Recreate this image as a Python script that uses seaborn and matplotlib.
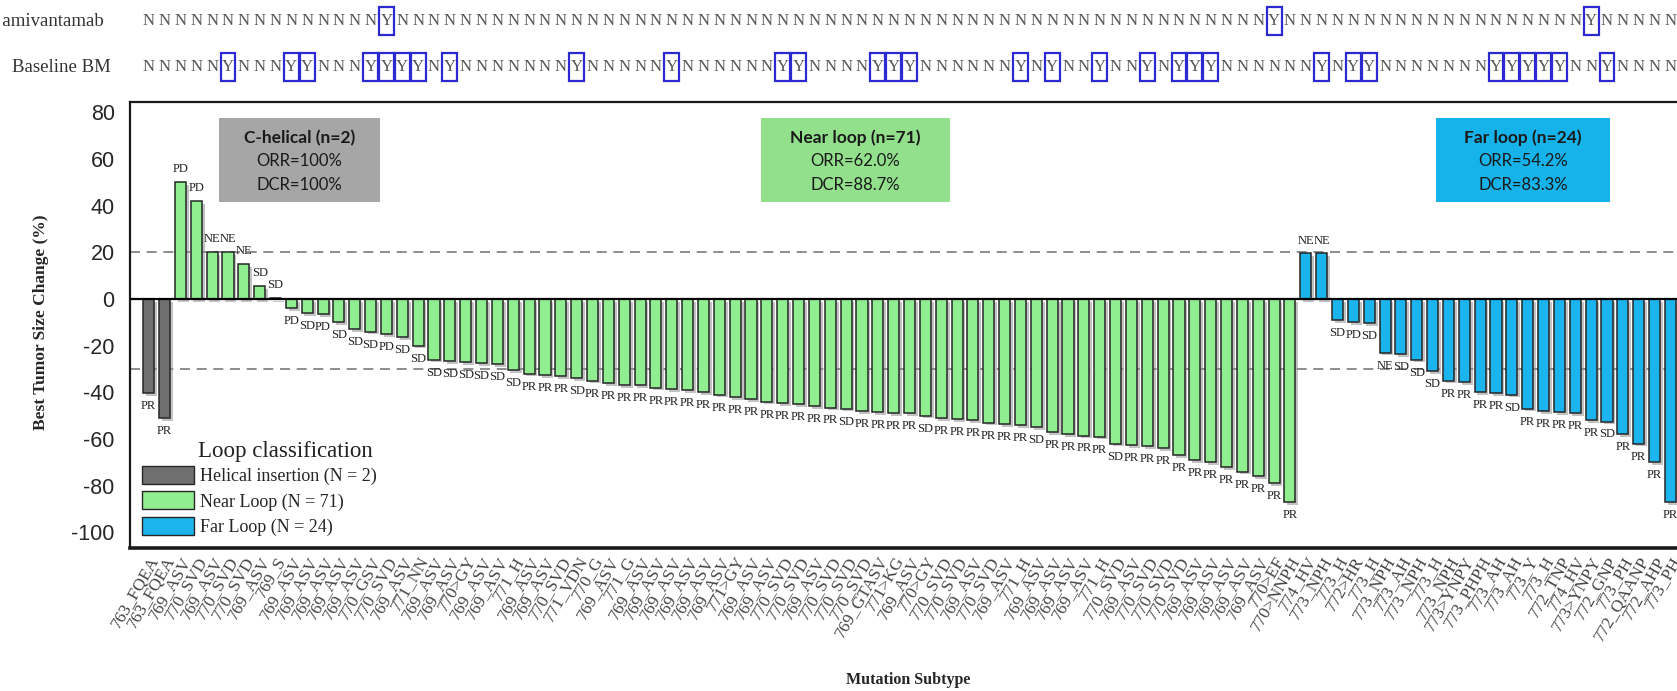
import numpy as np
import pandas as pd
import matplotlib
matplotlib.use('Agg')
import matplotlib.pyplot as plt
import matplotlib.patheffects as pe
import matplotlib.transforms as mtransforms
from matplotlib.patches import Patch, Rectangle
import seaborn as sns

# ---------------- data ----------------
helical_labels = ['763_FQEA', '763_FQEA']
near_labels = ['769_ASV', '770_SVD', '769_ASV', '770_SVD', '770_SVD', '769_ASV', '769_S',
               '769_ASV', '769_ASV', '769_ASV', '769_ASV', '769_ASV', '770_GSV', '770_SVD',
               '769_ASV', '771_NN', '769_ASV', '769_ASV', '770>GY', '769_ASV', '769_ASV',
               '771_H', '769_ASV', '769_ASV', '770_SVD', '771_VDN', '770_G', '769_ASV', '771_G',
               '769_ASV', '769_ASV', '769_ASV', '769_ASV', '769_ASV', '769_ASV', '771>GY',
               '769_ASV', '769_ASV', '770_SVD', '770_SVD', '769_ASV', '770_SVD', '770_SVD',
               '770_SVD', '769_GTASV', '771>KG', '769_ASV', '770>GY', '770_SVD', '770_SVD',
               '769_ASV', '770_SVD', '769_ASV', '771_H', '769_ASV', '769_ASV', '769_ASV',
               '769_ASV', '771_H', '770_SVD', '769_ASV', '770_SVD', '770_SVD', '770_SVD',
               '769_ASV', '769_ASV', '769_ASV', '769_ASV', '769_ASV', '770>EF', '770>NNPH']
far_labels = ['774_HV', '773_NPH', '773_H', '772>HR', '773_H', '773_NPH', '773_AH', '773_NPH',
              '773_H', '773_NPH', '773>YNPY', '773_PHPH', '773_AH', '773_AH', '773_Y', '773_H',
              '772_TNP', '774_HV', '773>YNPY', '772_GNP', '773_PH', '772_QAANP', '772_AHP', '773_PH']

helical_change = [-40.5, -51]
near_change = [50, 42, 20, 20, 15, 5.5, 0.5,
               -4, -6, -6.5, -10, -13, -14, -15, -16.5, -20, -26, -26.5, -27, -27.5, -28,
               -30.5, -32, -32.5,
               -33, -34, -35, -36, -37, -37, -38, -38.5, -39, -40, -41, -42, -43, -44, -44.5,
               -45, -46, -46.5, -47, -48, -48.5, -49, -49, -50, -51, -51.5, -52, -53, -53.5,
               -54, -55, -57, -58, -58.5, -59,
               -62, -62.5, -63, -64, -67, -69, -70, -72, -74, -76, -79, -87]
far_change = [19.5, 19.5, -9, -10, -10.5, -23, -23.5, -26, -31, -35, -35.5, -40, -40.5, -41,
              -47, -48, -48.5, -49, -52, -52.5, -58, -62, -70, -87]

helical_resp = ['PR', 'PR']
near_resp = ['PD', 'PD', 'NE', 'NE', 'NE', 'SD', 'SD',
             'PD', 'SD', 'PD', 'SD', 'SD', 'SD', 'PD', 'SD', 'SD',
             'SD', 'SD', 'SD', 'SD', 'SD', 'SD', 'PR', 'PR',
             'PR', 'SD', 'PR', 'PR', 'PR', 'PR', 'PR', 'PR', 'PR', 'PR', 'PR', 'PR', 'PR',
             'PR', 'PR', 'PR', 'PR', 'PR', 'SD', 'PR', 'PR', 'PR', 'PR', 'SD', 'PR', 'PR',
             'PR', 'PR', 'PR', 'PR', 'SD', 'PR', 'PR', 'PR', 'PR', 'SD', 'PR', 'PR', 'PR',
             'PR', 'PR', 'PR', 'PR', 'PR', 'PR', 'PR', 'PR']
far_resp = ['NE', 'NE', 'SD', 'PD', 'SD', 'NE', 'SD', 'SD', 'SD', 'PR', 'PR', 'PR', 'PR', 'SD',
            'PR', 'PR', 'PR', 'PR', 'PR', 'SD', 'PR', 'PR', 'PR', 'PR']

# patient positions (0-based) flagged "Y" in the two top rows
prior_amivantamab_yes = [15, 71, 91]
baseline_bm_yes = [5, 9, 10, 14, 15, 16, 17, 19, 27, 33, 40, 41, 46, 47, 48, 55, 57, 60, 63,
                   65, 66, 67, 74, 76, 77, 85, 86, 87, 88, 89, 92]

group_names = ['Helical insertion (N = 2)', 'Near Loop (N = 71)', 'Far Loop (N = 24)']
group_colors = ['#6f6f6f', '#90ee90', '#1cb4ec']
box_titles = ['C-helical (n=2)', 'Near loop (n=71)', 'Far loop (n=24)']
box_orr = ['ORR=100%', 'ORR=62.0%', 'ORR=54.2%']
box_dcr = ['DCR=100%', 'DCR=88.7%', 'DCR=83.3%']
box_colors = ['#a6a6a6', '#92e08c', '#16b2ea']

# ---------------- assemble ----------------
labels = helical_labels + near_labels + far_labels
change = helical_change + near_change + far_change
resp = helical_resp + near_resp + far_resp
loop = ([group_names[0]] * len(helical_labels) + [group_names[1]] * len(near_labels)
        + [group_names[2]] * len(far_labels))
n = len(labels)
df = pd.DataFrame({'pos': np.arange(n), 'change': change, 'loop': loop})

sns.set_style('white')
plt.rcParams['font.family'] = ['Liberation Serif', 'DejaVu Serif']
plt.rcParams['axes.unicode_minus'] = False

W, H = 1677, 691
fig = plt.figure(figsize=(W / 100, H / 100), dpi=100)
ax = fig.add_axes([130 / W, 1 - 548 / H, (1700 - 130) / W, (548 - 102) / H])

pal = dict(zip(group_names, group_colors))
sns.barplot(data=df, x='pos', y='change', hue='loop', palette=pal, dodge=False, width=0.7,
            saturation=1, edgecolor='#262626', linewidth=1.1, legend=False, ax=ax, zorder=3)
for p in ax.patches:
    p.set_path_effects([pe.SimplePatchShadow(offset=(2, -2), shadow_rgbFace='#888888', alpha=0.5),
                        pe.Normal()])

ax.set_xlim(-1.18, 97.87)
ax.set_ylim(-106.7, 84.4)

# reference lines
ax.axhline(0, color='black', lw=1.6, zorder=4)
for yv in (20, -30):
    ax.axhline(yv, color='#7a7a7a', lw=1.2, ls=(0, (6, 4)), zorder=1)

# response labels
for i, (v, r) in enumerate(zip(change, resp)):
    if v >= 0:
        ax.annotate(r, (i, v), xytext=(0, 5), textcoords='offset points', ha='center',
                    va='bottom', fontsize=9, color='#222222', zorder=5)
    else:
        ax.annotate(r, (i, v), xytext=(0, -5), textcoords='offset points', ha='center',
                    va='top', fontsize=9, color='#222222', zorder=5)

# axes styling
ax.set_xticks(range(n))
ax.set_xticklabels(labels, rotation=60, ha='right', rotation_mode='anchor', fontsize=12.5,
                   color='#444444')
ax.tick_params(axis='x', length=0, pad=4)
ax.set_yticks(range(-100, 81, 20))
ax.set_yticklabels([str(t) for t in range(-100, 81, 20)], fontsize=15.5,
                   family='Liberation Sans')
ax.tick_params(axis='y', length=0, pad=11)
ax.set_xlabel('')
ax.set_ylabel('')
ax.spines['right'].set_visible(False)
ax.spines['top'].set_linewidth(1.6)
ax.spines['left'].set_linewidth(1.6)
ax.spines['bottom'].set_linewidth(2.6)
for s in ('top', 'left', 'bottom'):
    ax.spines[s].set_color('#1a1a1a')

fig.text(41 / W, 1 - 322 / H, 'Best Tumor Size Change (%)', rotation=90, ha='center',
         va='center', fontsize=12.5, fontweight='bold')
fig.text(908 / W, 1 - 680 / H, 'Mutation Subtype', ha='center', va='center', fontsize=11.5,
         fontweight='bold')

# summary boxes
box_x = [(219, 380), (761, 950), (1436, 1610)]
for (x0, x1), t, o, d, c in zip(box_x, box_titles, box_orr, box_dcr, box_colors):
    fig.add_artist(Rectangle((x0 / W, 1 - 202 / H), (x1 - x0) / W, 84 / H,
                             transform=fig.transFigure, facecolor=c, edgecolor='none', zorder=2))
    xc = (x0 + x1) / 2 / W
    fig.text(xc, 1 - 138 / H, t, ha='center', va='center', fontsize=12.5, fontweight='bold',
             family='Lato', color='#1a1a1a', zorder=3)
    fig.text(xc, 1 - 161 / H, o, ha='center', va='center', fontsize=12, family='Lato',
             color='#1a1a1a', zorder=3)
    fig.text(xc, 1 - 185 / H, d, ha='center', va='center', fontsize=12, family='Lato',
             color='#1a1a1a', zorder=3)

# top Y/N rows
blend = mtransforms.blended_transform_factory(ax.transData, fig.transFigure)
rows = [('Prior amivantamab', prior_amivantamab_yes, 21, 104),
        ('Baseline BM', baseline_bm_yes, 67, 111)]
for name, yes, yc, xr in rows:
    fig.text(xr / W, 1 - yc / H, name, ha='right', va='center', fontsize=13.5, color='#333333')
    for i in range(n):
        flag = 'Y' if i in yes else 'N'
        ax.text(i, 1 - yc / H, flag, transform=blend, ha='center', va='center', fontsize=12,
                color='#555555', clip_on=False)
        if flag == 'Y':
            ax.add_patch(Rectangle((i - 0.47, 1 - (yc + 14) / H), 0.94, 28 / H, transform=blend,
                                   fill=False, edgecolor='#2a2ad0', lw=1.6, clip_on=False))

# legend
handles = [Patch(facecolor=c, edgecolor='#262626', lw=1) for c in group_colors]
fig.text(198 / W, 1 - 451 / H, 'Loop classification', ha='left', va='center', fontsize=16.5,
         color='#222222')
ax.legend(handles, group_names, loc='upper left', bbox_to_anchor=(142 / W, 1 - 466 / H),
          bbox_transform=fig.transFigure, frameon=False, fontsize=13, handlelength=2.9,
          handleheight=1.15, labelspacing=0.35, handletextpad=0.3, borderpad=0,
          borderaxespad=0)

fig.savefig('out.png', dpi=100)
